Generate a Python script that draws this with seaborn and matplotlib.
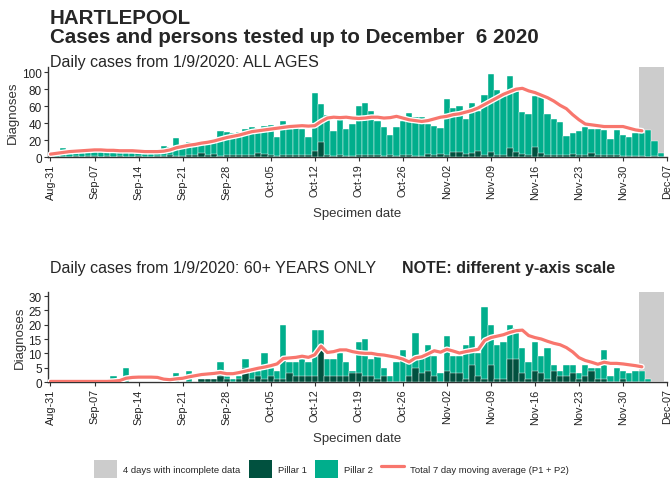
import numpy as np
import matplotlib
matplotlib.use("Agg")
import matplotlib.pyplot as plt
import seaborn as sns
from matplotlib.patches import Patch
from matplotlib.lines import Line2D

# ---------------- data (day 0 = Aug-31, last bar = Dec-06) ----------------
days = list(range(98))
tick_labels = ["Aug-31", "Sep-07", "Sep-14", "Sep-21", "Sep-28", "Oct-05", "Oct-12",
               "Oct-19", "Oct-26", "Nov-02", "Nov-09", "Nov-16", "Nov-23", "Nov-30", "Dec-07"]

# all ages: total (pillar 1 + pillar 2) and pillar 1
all_total = [3, 3, 11, 4, 5, 5, 6, 7, 8, 7, 6, 6, 6, 5, 5, 4, 4, 5, 13, 12,
             23, 13, 18, 14, 19, 16, 20, 31, 29, 28, 30, 33, 35, 34, 37, 38, 24, 42, 33, 34,
             33, 24, 76, 62, 49, 31, 49, 33, 39, 60, 64, 54, 43, 36, 26, 35, 42, 52, 47, 47,
             39, 37, 34, 69, 58, 60, 45, 64, 54, 73, 98, 79, 72, 96, 80, 53, 51, 72, 71, 51,
             45, 41, 25, 28, 31, 35, 33, 33, 32, 21, 32, 26, 24, 28, 28, 32, 19, 5]
all_pillar1 = [0, 0, 0, 0, 1, 0, 1, 1, 0, 1, 0, 1, 0, 0, 1, 0, 0, 1, 1, 2,
               1, 1, 2, 3, 5, 3, 4, 1, 2, 2, 2, 3, 3, 5, 4, 3, 1, 3, 3, 3,
               3, 2, 7, 18, 2, 1, 2, 1, 1, 2, 3, 3, 2, 1, 2, 1, 3, 2, 1, 1,
               4, 2, 4, 2, 6, 6, 4, 5, 7, 3, 6, 3, 3, 11, 6, 4, 2, 12, 5, 2,
               2, 3, 3, 4, 3, 3, 5, 2, 2, 2, 3, 1, 1, 1, 1, 0, 1, 0]
all_avg = [3.5, 4.5, 5.5, 6.5, 7, 7.5, 8, 8.5, 8.5, 8, 8, 7.5, 7.5, 7.5, 7, 6.5, 6.5, 6.5, 7, 8.5,
           11, 12.5, 14, 15, 16.5, 17.5, 19, 21, 23, 24.5, 26, 28, 30, 31, 32, 33, 34, 35, 36, 36.5,
           37, 36.5, 37, 42, 46, 47, 46.5, 47, 46, 45.5, 46, 47, 47, 46, 46.5, 48, 46, 44, 43, 42,
           43, 45, 47, 48, 50, 51, 53, 55, 58, 62, 66, 70, 74, 77, 80, 81, 78, 76, 73, 70,
           66, 61, 57, 50, 44, 39, 38, 37, 36, 36, 36, 36, 34, 32, 31]

# 60+ years: total and pillar 1
old_total = [0, 0, 0, 0, 0, 0, 0, 0, 0, 0, 2, 0, 5, 0, 0, 0, 0, 0, 0, 0,
             3, 0, 4, 0, 0, 0, 1, 7, 2, 1, 2, 8, 4, 4, 10, 5, 4, 20, 7, 7,
             8, 7, 18, 18, 8, 8, 10, 7, 4, 14, 15, 8, 9, 5, 2, 7, 11, 7, 17, 9,
             13, 9, 3, 16, 9, 9, 13, 16, 10, 26, 20, 13, 14, 20, 19, 12, 7, 14, 9, 12,
             6, 4, 6, 6, 3, 6, 5, 5, 11, 2, 5, 4, 3, 4, 4, 1, 0, 0]
old_pillar1 = [0, 0, 0, 0, 0, 0, 0, 0, 0, 0, 0, 0, 0, 0, 0, 0, 0, 0, 0, 0,
               0, 0, 0, 0, 1, 1, 1, 2, 1, 0, 1, 5, 1, 2, 1, 2, 1, 1, 3, 2,
               2, 2, 2, 11, 2, 2, 2, 2, 3, 3, 2, 2, 1, 2, 0, 0, 0, 2, 5, 3,
               4, 2, 0, 4, 3, 3, 1, 6, 2, 1, 6, 1, 1, 8, 8, 3, 1, 4, 3, 1,
               4, 2, 2, 3, 1, 2, 4, 1, 1, 0, 0, 1, 0, 0, 0, 0, 0, 0]
old_avg = [0.2, 0.2, 0.2, 0.2, 0.2, 0.2, 0.2, 0.2, 0.2, 0.2, 0.3, 0.5, 1.3, 1.6, 1.7, 1.7, 1.7, 1.6, 1.0, 0.8,
           1.1, 1.3, 1.8, 2.2, 2.6, 2.8, 3.0, 3.3, 2.9, 2.9, 3.3, 3.8, 4.3, 4.8, 5.2, 5.7, 6.3, 8.2, 8.4, 8.6,
           9.0, 8.6, 9.5, 12.5, 10.3, 10.6, 11.2, 11.2, 10.6, 10.2, 10.0, 10.0, 9.6, 9.4, 9.0, 8.6, 8.0, 7.0, 8.4, 8.8,
           9.8, 10.9, 10.4, 11.4, 10.8, 10.1, 10.6, 11.0, 11.4, 14.5, 15.5, 16.0, 16.5, 17.3, 17.9, 18.1, 16.2, 15.5, 15.0, 14.2,
           13.5, 13.0, 12.0, 10.5, 8.5, 7.5, 6.9, 6.2, 6.9, 6.5, 6.5, 6.3, 6.0, 5.7, 5.3]

incomplete = (93.5, 97.5)   # Dec-03 .. Dec-06

# ---------------- style ----------------
sns.set_theme(style="white")
plt.rcParams["font.family"] = ["Liberation Sans", "DejaVu Sans"]

C_P2 = "#00AE8C"
C_P1 = "#01513F"
C_GREY = "#CCCCCC"
C_AVG = "#F8766D"

fig = plt.figure(figsize=(6.7, 4.85), dpi=100)
ax1 = fig.add_axes([0.0716, 0.674, 0.924, 0.1856])
ax2 = fig.add_axes([0.0716, 0.2103, 0.924, 0.1856])


def draw_panel(ax, total, pillar1, avg, ymax, yticks):
    ax.axvspan(*incomplete, color=C_GREY, lw=0, zorder=0)
    sns.barplot(x=days, y=total, native_scale=True, width=1, color=C_P2, saturation=1,
                edgecolor="white", linewidth=0.3, errorbar=None, ax=ax, zorder=2)
    sns.barplot(x=days, y=pillar1, native_scale=True, width=1, color=C_P1, saturation=1,
                edgecolor="white", linewidth=0.3, errorbar=None, ax=ax, zorder=3)
    d_avg = days[:len(avg)]
    sns.lineplot(x=d_avg, y=avg, color="white", lw=4.2, ax=ax, zorder=4)
    sns.lineplot(x=d_avg, y=avg, color=C_AVG, lw=2.3, ax=ax, zorder=5)
    ax.set_xlim(-0.4, 98)
    ax.set_ylim(0, ymax)
    ax.set_yticks(yticks)
    ax.set_yticklabels([str(t) for t in yticks], fontsize=8.5, color="#222222")
    ax.set_xticks(days[::7] + [98])
    ax.set_xticklabels(tick_labels, rotation=90, fontsize=7.8, color="#222222")
    ax.tick_params(axis="both", length=3, width=0.8, color="#333333", pad=1.5,
                   direction="out", left=True, bottom=True)
    for s in ["top", "right"]:
        ax.spines[s].set_visible(False)
    for s in ["left", "bottom"]:
        ax.spines[s].set_color("#333333")
        ax.spines[s].set_linewidth(1.0)
    ax.set_xlabel("Specimen date", fontsize=9.5, color="#333333", labelpad=6)
    ax.set_ylabel("Diagnoses", fontsize=9.5, color="#333333", labelpad=2)
    ax.grid(False)


draw_panel(ax1, all_total, all_pillar1, all_avg, 106, [0, 20, 40, 60, 80, 100])
draw_panel(ax2, old_total, old_pillar1, old_avg, 31.4, [0, 5, 10, 15, 20, 25, 30])

# ---------------- titles ----------------
fig.text(0.0746, 0.962, "HARTLEPOOL", fontsize=14.8, fontweight="bold", va="center")
fig.text(0.0746, 0.922, "Cases and persons tested up to December  6 2020",
         fontsize=14.8, fontweight="bold", va="center")
fig.text(0.0746, 0.872, "Daily cases from 1/9/2020: ALL AGES", fontsize=11.5, va="center")
fig.text(0.0746, 0.447, "Daily cases from 1/9/2020: 60+ YEARS ONLY", fontsize=11.5, va="center")
fig.text(0.600, 0.447, "NOTE: different y-axis scale", fontsize=11.5, fontweight="bold", va="center")

# ---------------- legend ----------------
handles = [Patch(facecolor=C_GREY, edgecolor="none"),
           Patch(facecolor=C_P1, edgecolor="none"),
           Patch(facecolor=C_P2, edgecolor="none"),
           Line2D([0], [0], color=C_AVG, lw=2.3)]
labels = ["4 days with incomplete data", "Pillar 1", "Pillar 2",
          "Total 7 day moving average (P1 + P2)"]
fig.legend(handles, labels, loc="center", bbox_to_anchor=(0.495, 0.031), ncol=4,
           frameon=False, fontsize=6.8, handlelength=2.45, handleheight=2.6,
           handletextpad=0.65, columnspacing=0.85)

fig.savefig("out.png", dpi=100)
